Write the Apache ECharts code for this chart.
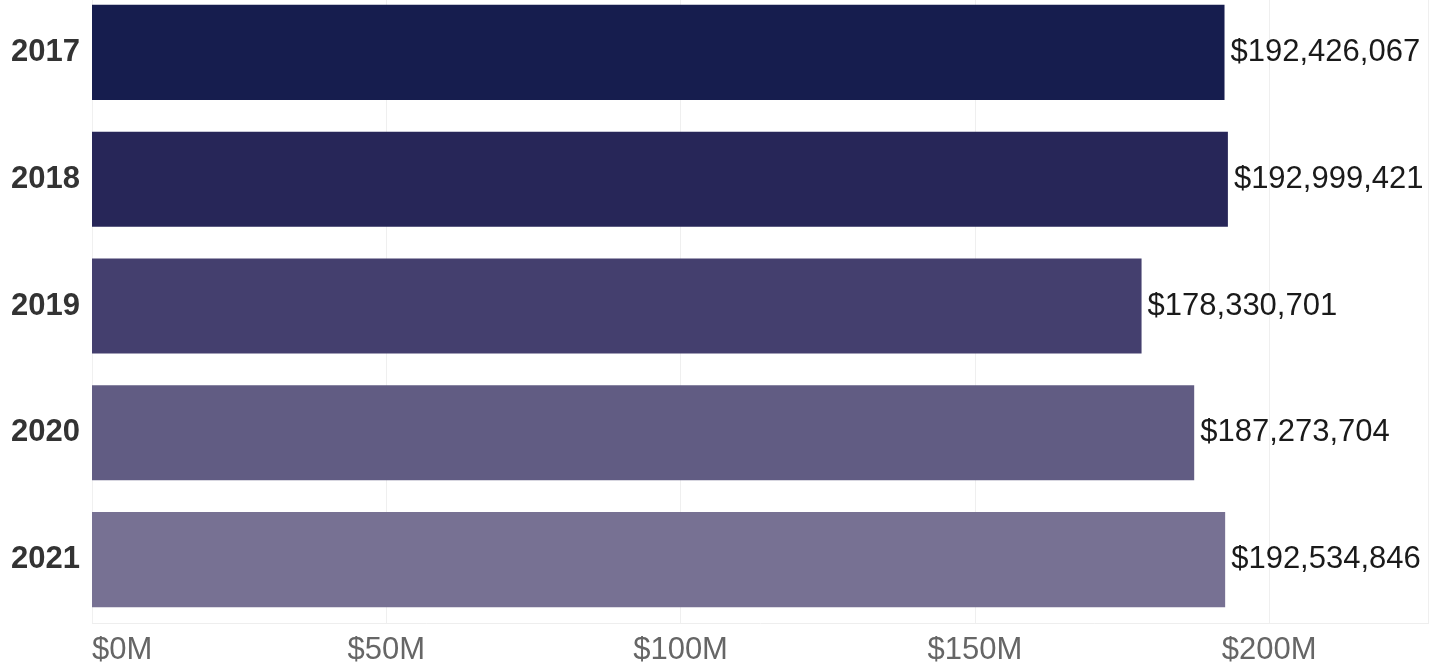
<!DOCTYPE html>
<html>
<head>
<meta charset="utf-8">
<script src="https://cdn.jsdelivr.net/npm/echarts@6/dist/echarts.min.js"></script>
<style>
  html, body { margin: 0; padding: 0; background: #ffffff; overflow: hidden; }
  /* the first band starts just above the page edge */
  #chart { position: relative; top: -11px; width: 1429px; height: 678px; }
</style>
</head>
<body>
<div id="chart"></div>
<script>
// Annual totals, in dollars
const years = ['2017', '2018', '2019', '2020', '2021'];
const totals = [192426067, 192999421, 178330701, 187273704, 192534846];
const barColors = ['#161d4e', '#272658', '#443f6e', '#615c83', '#777193'];

const axisMax = 227e6;
const tickStep = 50e6;

const fontFamily = 'Arial, "Liberation Sans", sans-serif';

function money(v) {
  return '$' + v.toString().replace(/\B(?=(\d{3})+(?!\d))/g, ',');
}

const chart = echarts.init(document.getElementById('chart'));
chart.setOption({
  animation: false,
  backgroundColor: '#ffffff',
  grid: { left: 92, right: 1, top: 0, height: 634, containLabel: false },
  xAxis: {
    type: 'value',
    min: 0,
    max: axisMax,
    interval: tickStep,
    axisLine: { show: false },
    axisTick: { show: false },
    splitLine: { show: true, lineStyle: { color: '#efefef', width: 1 } },
    axisLabel: {
      color: '#666666',
      fontFamily: fontFamily,
      fontSize: 31,
      margin: 12,
      showMaxLabel: false,
      alignMinLabel: 'left',
      formatter: v => '$' + Math.round(v / 1e6) + 'M'
    }
  },
  yAxis: {
    type: 'category',
    data: years,
    inverse: true,
    axisLine: { show: true, lineStyle: { color: '#f0f0f0' } },
    axisTick: { show: false },
    splitLine: { show: false },
    axisLabel: {
      color: '#333333',
      fontFamily: fontFamily,
      fontSize: 31,
      fontWeight: 'bold',
      margin: 12
    }
  },
  series: [{
    type: 'bar',
    data: totals.map((v, i) => ({ value: v, itemStyle: { color: barColors[i] } })),
    barWidth: '75%',
    label: {
      show: true,
      position: 'right',
      distance: 6,
      color: '#1a1a1a',
      fontFamily: fontFamily,
      fontSize: 31,
      formatter: p => money(p.value)
    }
  }],
  graphic: [{
    type: 'line',
    shape: { x1: 92, y1: 634.5, x2: 1429, y2: 634.5 },
    style: { stroke: '#eeeeee', lineWidth: 1 },
    silent: true
  }]
});
</script>
</body>
</html>
